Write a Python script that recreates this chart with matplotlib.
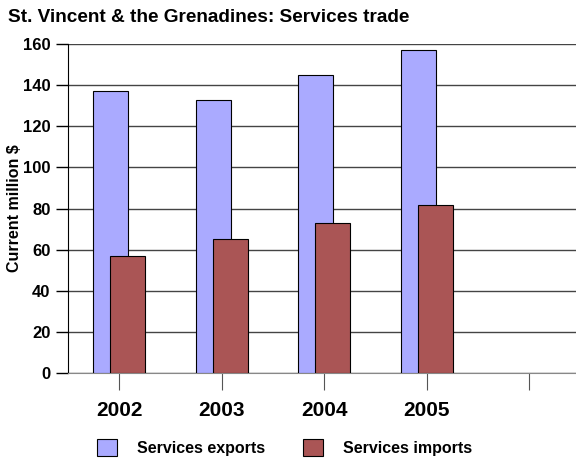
import matplotlib
matplotlib.use('Agg')
import matplotlib.pyplot as plt
import numpy as np

years = ['2002', '2003', '2004', '2005', '']
exports = [137, 133, 145, 157]
imports = [57, 65, 73, 82]

plt.rcParams['font.family'] = ['Liberation Sans', 'DejaVu Sans']
plt.rcParams['font.weight'] = 'bold'

fig = plt.figure(figsize=(5.76, 4.59), dpi=100)
ax = fig.add_axes([0.118, 0.187, 0.89, 0.717])

x = np.arange(len(exports))
w = 0.34
ax.bar(x - 0.083, exports, w, color='#aaaaff', edgecolor='black',
       linewidth=0.8, label='Services exports', zorder=3)
ax.bar(x + 0.083, imports, w, color='#aa5555', edgecolor='black',
       linewidth=0.8, label='Services imports', zorder=4)

ax.set_xlim(-0.5, 4.5)
ax.set_ylim(0, 160)
ax.set_yticks(range(0, 161, 20))
ax.set_xticks(range(len(years)))
ax.set_xticklabels(years, fontsize=15, fontweight='bold')
ax.tick_params(axis='x', length=12, color='#555555', pad=8)
ax.tick_params(axis='y', length=9, labelsize=12, width=1)
for lab in ax.get_yticklabels():
    lab.set_fontweight('bold')

ax.grid(axis='y', color='#444444', linewidth=1, zorder=0)
ax.spines['right'].set_visible(False)
ax.spines['top'].set_visible(False)
ax.spines['bottom'].set_color('#888888')
ax.spines['left'].set_color('black')

ax.set_ylabel('Current million $', fontsize=11.5, fontweight='bold', labelpad=1)

fig.text(0.014, 0.962, 'St. Vincent & the Grenadines: Services trade',
         fontsize=13.7, fontweight='bold', va='center')

fig.legend(loc='lower left', bbox_to_anchor=(0.143, -0.024), ncol=2,
           frameon=False, fontsize=11.5, handlelength=1.25, handleheight=1.25,
           columnspacing=2.4, handletextpad=1.25)

fig.savefig('out.png', dpi=100)
